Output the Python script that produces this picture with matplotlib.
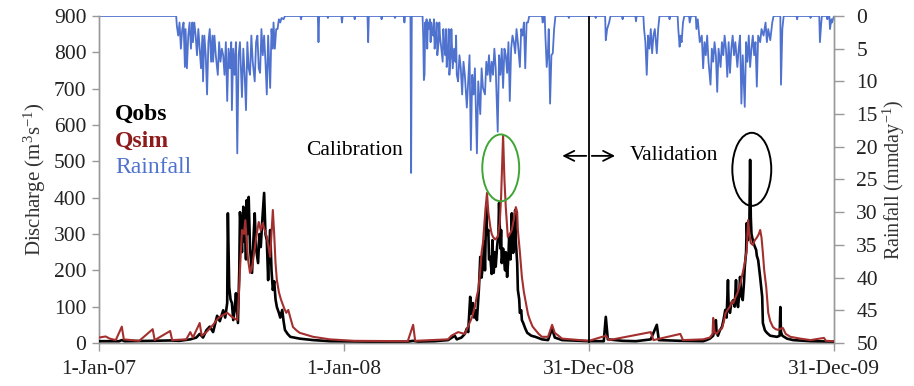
import numpy as np
import matplotlib
matplotlib.use("Agg")
import matplotlib.pyplot as plt
from matplotlib.patches import Ellipse

plt.rcParams['font.family'] = ['Liberation Serif', 'DejaVu Serif']
plt.rcParams['mathtext.fontset'] = 'custom'
plt.rcParams['mathtext.rm'] = 'Liberation Serif'
plt.rcParams['mathtext.it'] = 'Liberation Serif:italic'

# ---------------- data (day offset from 1-Jan-2007) ----------------
tick_days = [0, 365, 730, 1095]
tick_labels = ['1-Jan-07', '1-Jan-08', '31-Dec-08', '31-Dec-09']
split_day = 730

qobs_day = [0, 30, 34, 38, 80, 106, 120, 136, 145, 150, 155, 160, 165, 170, 176, 180, 185, 188, 191, 192,
            194, 196, 198, 200, 202, 204, 206, 207, 209, 210, 212, 213, 215, 216, 218, 219, 220, 221, 223, 225,
            228, 230, 232, 234, 237, 239, 241, 243, 246, 248, 250, 252, 253, 255, 257, 259, 261, 263, 265, 268,
            270, 273, 275, 277, 281, 285, 299, 319, 344, 400, 460, 468, 475, 500, 520, 530, 533, 540, 545, 548,
            550, 553, 554, 556, 557, 559, 561, 563, 566, 568, 570, 572, 574, 575, 577, 578, 580, 581, 583, 585,
            586, 588, 590, 591, 593, 595, 596, 598, 599, 600, 602, 603, 605, 606, 608, 610, 611, 613, 615, 617,
            619, 620, 621, 623, 624, 626, 627, 629, 630, 632, 635, 638, 644, 650, 660, 669, 675, 679, 690, 730,
            740, 752, 755, 758, 780, 800, 822, 831, 834, 866, 900, 905, 910, 915, 917, 919, 920, 922, 925, 928,
            930, 933, 935, 937, 938, 940, 942, 945, 947, 949, 950, 952, 954, 955, 957, 959, 961, 962, 964, 965,
            966, 967, 968, 969, 970, 971, 972, 974, 976, 979, 980, 982, 985, 988, 989, 992, 995, 1000, 1010, 1014,
            1015, 1016, 1018, 1025, 1034, 1060, 1095]
qobs_val = [5, 5, 8, 5, 6, 7, 6, 10, 15, 25, 15, 35, 45, 30, 75, 60, 90, 70, 110, 357,
            154, 120, 110, 63, 90, 137, 80, 55, 200, 360, 300, 250, 375, 280, 300, 230, 393, 300, 402, 260,
            193, 280, 357, 260, 220, 300, 264, 330, 413, 300, 283, 173, 240, 311, 200, 146, 170, 120, 99, 83,
            70, 91, 60, 36, 25, 17, 12, 8, 5, 4, 4, 6, 4, 5, 8, 20, 10, 15, 25, 40,
            30, 127, 80, 91, 110, 70, 90, 63, 150, 237, 180, 220, 280, 200, 385, 300, 311, 230, 237, 190,
            283, 193, 250, 210, 264, 300, 385, 260, 311, 220, 260, 237, 200, 250, 182, 240, 292, 230, 357, 248,
            300, 366, 280, 220, 146, 120, 83, 90, 63, 55, 40, 28, 20, 17, 10, 8, 40, 15, 8, 5,
            5, 5, 72, 10, 6, 5, 10, 50, 8, 6, 5, 8, 12, 20, 40, 63, 30, 20, 35, 44,
            60, 91, 70, 173, 100, 83, 110, 118, 100, 173, 120, 99, 140, 182, 130, 118, 170, 209, 250, 330,
            290, 283, 310, 340, 504, 347, 300, 283, 270, 256, 240, 228, 180, 127, 55, 35, 28, 20, 17, 20,
            99, 30, 20, 12, 8, 5, 4]

qsim_day = [0, 10, 16, 25, 34, 37, 60, 80, 83, 106, 109, 130, 136, 140, 150, 153, 160, 165, 170, 176,
            180, 191, 198, 206, 208, 210, 213, 216, 218, 220, 222, 225, 227, 229, 232, 235, 238, 241, 244, 247,
            250, 253, 255, 257, 259, 261, 263, 265, 268, 271, 273, 276, 279, 282, 285, 289, 294, 299, 319, 344,
            380, 460, 468, 471, 520, 525, 535, 545, 556, 560, 563, 565, 568, 570, 572, 575, 578, 580, 583, 585,
            587, 590, 594, 597, 599, 602, 604, 606, 608, 609, 612, 615, 618, 621, 623, 624, 627, 630, 633, 636,
            639, 642, 646, 650, 655, 660, 669, 675, 679, 690, 730, 755, 760, 822, 826, 866, 870, 900, 910, 914,
            915, 917, 920, 924, 928, 931, 933, 936, 940, 943, 945, 948, 951, 955, 959, 962, 965, 967, 969, 971,
            974, 977, 980, 983, 985, 987, 989, 991, 994, 997, 1000, 1004, 1008, 1012, 1016, 1019, 1023, 1030, 1045, 1060,
            1080, 1083, 1095]
qsim_val = [15, 18, 12, 8, 45, 10, 6, 38, 8, 33, 8, 10, 30, 15, 55, 20, 30, 40, 50, 65,
            72, 83, 72, 63, 120, 200, 311, 300, 338, 280, 230, 193, 200, 220, 260, 300, 333, 310, 330, 310,
            292, 260, 237, 300, 366, 300, 220, 173, 140, 120, 110, 95, 83, 91, 70, 44, 35, 28, 17, 10,
            6, 5, 50, 6, 10, 20, 30, 25, 72, 100, 130, 146, 200, 250, 275, 350, 413, 360, 319, 300,
            292, 285, 292, 330, 400, 572, 450, 374, 320, 292, 300, 311, 340, 374, 360, 311, 250, 182, 140, 110,
            80, 63, 45, 36, 25, 17, 17, 50, 28, 12, 6, 20, 8, 30, 8, 25, 8, 10, 15, 25,
            69, 30, 25, 35, 40, 60, 80, 90, 100, 115, 110, 125, 137, 160, 193, 220, 256, 338, 300, 275,
            270, 283, 290, 300, 311, 290, 248, 200, 154, 83, 60, 44, 38, 36, 40, 41, 25, 17, 12, 8,
            14, 6, 5]

rain_day = [0, 115, 116, 118, 120, 122, 124, 126, 128, 129, 131, 133, 135, 137, 139, 140, 142, 144, 146, 148,
            150, 152, 154, 155, 157, 159, 161, 163, 165, 167, 169, 170, 172, 174, 177, 179, 181, 183, 185, 187,
            189, 191, 193, 195, 197, 198, 200, 202, 204, 206, 208, 210, 213, 215, 217, 219, 221, 223, 225, 227,
            229, 232, 234, 236, 238, 240, 242, 244, 246, 248, 250, 252, 255, 257, 259, 260, 262, 264, 266, 268,
            270, 272, 275, 277, 300, 301, 302, 326, 327, 328, 340, 341, 342, 361, 362, 363, 380, 381, 382, 400,
            401, 402, 420, 421, 422, 440, 441, 442, 454, 455, 456, 464, 465, 466, 482,
            483, 484, 485, 486, 487, 488, 489, 490, 491, 493, 494, 495, 496, 498, 499, 500, 502, 503, 504, 506,
            507, 508, 510, 512, 513, 514, 516, 517, 518, 520, 521, 522, 524, 525, 527, 529, 531, 532, 533, 535,
            537, 539, 541, 543, 545, 548, 550, 552, 554, 556, 558, 560, 563, 565, 568, 570, 572, 575, 577, 579,
            581, 583, 585, 587, 589, 591, 594, 596, 598, 600, 602, 604, 606, 608, 610, 612, 614, 616, 618, 620,
            622, 624, 627, 629, 631, 633, 635, 637, 639, 641, 660, 661, 662, 664, 665, 667, 669, 670, 672, 674,
            676, 678, 680, 699, 700, 701,
            739, 740, 741, 754, 755, 757, 760, 762, 779, 780, 781, 799, 800, 801, 811, 812, 814, 816, 818, 820,
            822, 824, 826, 828, 831, 833, 835, 849, 850, 851, 862, 863, 865, 866, 868, 870, 872, 879, 880, 882,
            889, 890, 892, 895, 898, 900, 902, 904, 906, 908, 911, 913, 915, 917, 919, 921, 923, 926, 928, 930,
            932, 934, 936, 938, 940, 942, 944, 946, 948, 951, 953, 955, 957, 959, 962, 964, 966, 968, 970, 972,
            974, 976, 978, 980, 982, 985, 987, 990, 993, 995, 997, 1000, 1003, 1005, 1015, 1016, 1018, 1020, 1039, 1040,
            1041, 1059, 1060, 1061, 1073, 1074, 1076, 1077, 1084, 1085, 1086, 1088, 1089, 1091, 1092, 1095]
rain_mm = [0, 0, 1.5, 3, 1, 5, 2, 1, 7.8, 2, 8, 3, 1, 5, 1, 4, 1, 3, 6, 2,
           5, 8, 3, 10, 3, 6, 12, 4, 2, 7, 3, 7, 3, 6, 9, 4, 7, 5, 6, 9,
           4, 13, 5, 8, 4, 14.4, 5, 9, 4, 21, 6, 4, 12.4, 5, 9, 14.4, 4, 8, 9, 3,
           7, 10, 4, 3, 8, 8.7, 2, 6, 3, 7, 12, 3, 11, 2, 5, 1, 5, 2, 2, 0.5,
           1, 0.3, 0.5, 0, 0, 0.5, 0, 0, 4, 0, 0, 0.3, 0, 0, 1, 0, 0, 0.5, 0, 0,
           4, 0, 0, 0.5, 0, 0, 0.3, 0, 0, 1, 0, 0, 24, 0, 0,
           3, 9.8, 9, 1, 3, 0.5, 5, 1, 2, 0.5, 4, 1, 2, 3, 0.5, 5, 3, 1, 6, 4,
           1, 3, 5, 7, 2, 4, 6, 2, 7.8, 5, 2, 9, 6, 2, 8, 5, 7, 3, 9, 10,
           6, 8, 12, 7, 9, 14, 10, 6, 20.5, 9, 12, 8, 21, 10, 15, 8, 11, 12, 7, 9,
           6, 10, 7, 9, 5, 8, 17.7, 6, 9, 5, 11, 5, 6, 8.7, 4, 13, 5, 3, 4, 5.7,
           2, 4, 7.8, 2, 3, 1, 8, 1, 1, 0, 0, 1, 0, 0, 3, 7.8, 5, 2, 13.4, 6,
           5.7, 2, 0, 0, 0.3, 0,
           0, 0.3, 0, 0, 3.7, 2, 1, 0, 0, 0.5, 0, 0, 0.8, 0, 0, 2, 4, 9, 3, 5,
           2, 5.7, 3, 2, 5.7, 2, 0, 0, 0.5, 0, 0, 2, 4.7, 3, 4, 1, 0, 0, 1, 0,
           0, 2, 0.5, 4, 3, 8, 4, 6, 3, 7, 10.5, 5, 7, 4, 6, 11.6, 5, 7.8, 4, 6,
           3, 5, 9.3, 4, 8.7, 5, 3, 6, 4, 7.8, 5, 3, 13.4, 6, 13.9, 4, 7, 3, 7.8, 5,
           3, 6, 4, 10.8, 3, 4, 2, 3, 1, 4, 2, 3.7, 1, 0, 0, 10.5, 2, 0, 0, 0.5,
           0, 0, 0.3, 0, 0, 4, 1, 0, 0, 0.5, 0, 0, 2, 0.5, 1, 0]

# ---------------- figure ----------------
fig = plt.figure(figsize=(9.14, 3.86), dpi=100)
ax = fig.add_axes([0.1083, 0.1114, 0.8042, 0.8472])
ax2 = ax.twinx()

blue = '#4F72CF'
red = '#A3302E'
ax2.plot(rain_day, rain_mm, color=blue, lw=1.3, zorder=1)
ax.plot(qobs_day, qobs_val, color='black', lw=1.9, zorder=3)
ax.plot(qsim_day, qsim_val, color=red, lw=1.5, zorder=4)
ax.set_zorder(ax2.get_zorder() + 1)
ax.patch.set_visible(False)

ax.set_xlim(0, 1095)
ax.set_ylim(0, 900)
ax2.set_ylim(50, 0)

ax.set_xticks(tick_days)
ax.set_xticklabels(tick_labels, fontsize=15.5)
ax.set_yticks(np.arange(0, 901, 100))
ax.tick_params(axis='y', labelsize=15.5, length=5, width=1, color='#999999', pad=4, labelcolor='#222222')
ax.tick_params(axis='x', length=6, width=1, color='#999999', pad=6, labelcolor='#222222')
ax2.set_yticks(np.arange(0, 51, 5))
ax2.tick_params(axis='y', labelsize=15.5, length=7, width=1, color='#999999', pad=9, labelcolor='#222222')

for a in (ax, ax2):
    a.spines['top'].set_visible(False)
    for s in ('left', 'right', 'bottom'):
        a.spines[s].set_color('#999999')
        a.spines[s].set_linewidth(1.0)

ax.set_ylabel('Discharge (m$^{3}$s$^{-1}$)', fontsize=15, color='#333333', labelpad=4)
ax2.set_ylabel('Rainfall (mmday$^{-1}$)', fontsize=14.5, color='#333333', labelpad=2)

# split line
ax.axvline(split_day, color='black', lw=1.3, zorder=5)

# legend-like texts
ax.text(0.022, 0.70, 'Qobs', transform=ax.transAxes, fontsize=17, fontweight='bold', color='black', va='center')
ax.text(0.022, 0.618, 'Qsim', transform=ax.transAxes, fontsize=17, fontweight='bold', color='#8E1B1B', va='center')
ax.text(0.022, 0.538, 'Rainfall', transform=ax.transAxes, fontsize=17, color=blue, va='center')

ax.text(381, 531, 'Calibration', fontsize=15.5, ha='center', va='center')
ax.text(856, 515, 'Validation', fontsize=15.5, ha='center', va='center')
ax.annotate('', xy=(686, 515), xytext=(split_day, 515),
            arrowprops=dict(arrowstyle='->', color='black', lw=1.3, mutation_scale=18))
ax.annotate('', xy=(773, 515), xytext=(split_day, 515),
            arrowprops=dict(arrowstyle='->', color='black', lw=1.3, mutation_scale=18))

ax.add_patch(Ellipse((598.5, 482), 55, 184, fill=False, edgecolor='#3FA535', lw=1.4, zorder=6))
ax.add_patch(Ellipse((972.5, 478), 58, 201, fill=False, edgecolor='black', lw=1.4, zorder=6))

fig.savefig('out.png', dpi=100)
